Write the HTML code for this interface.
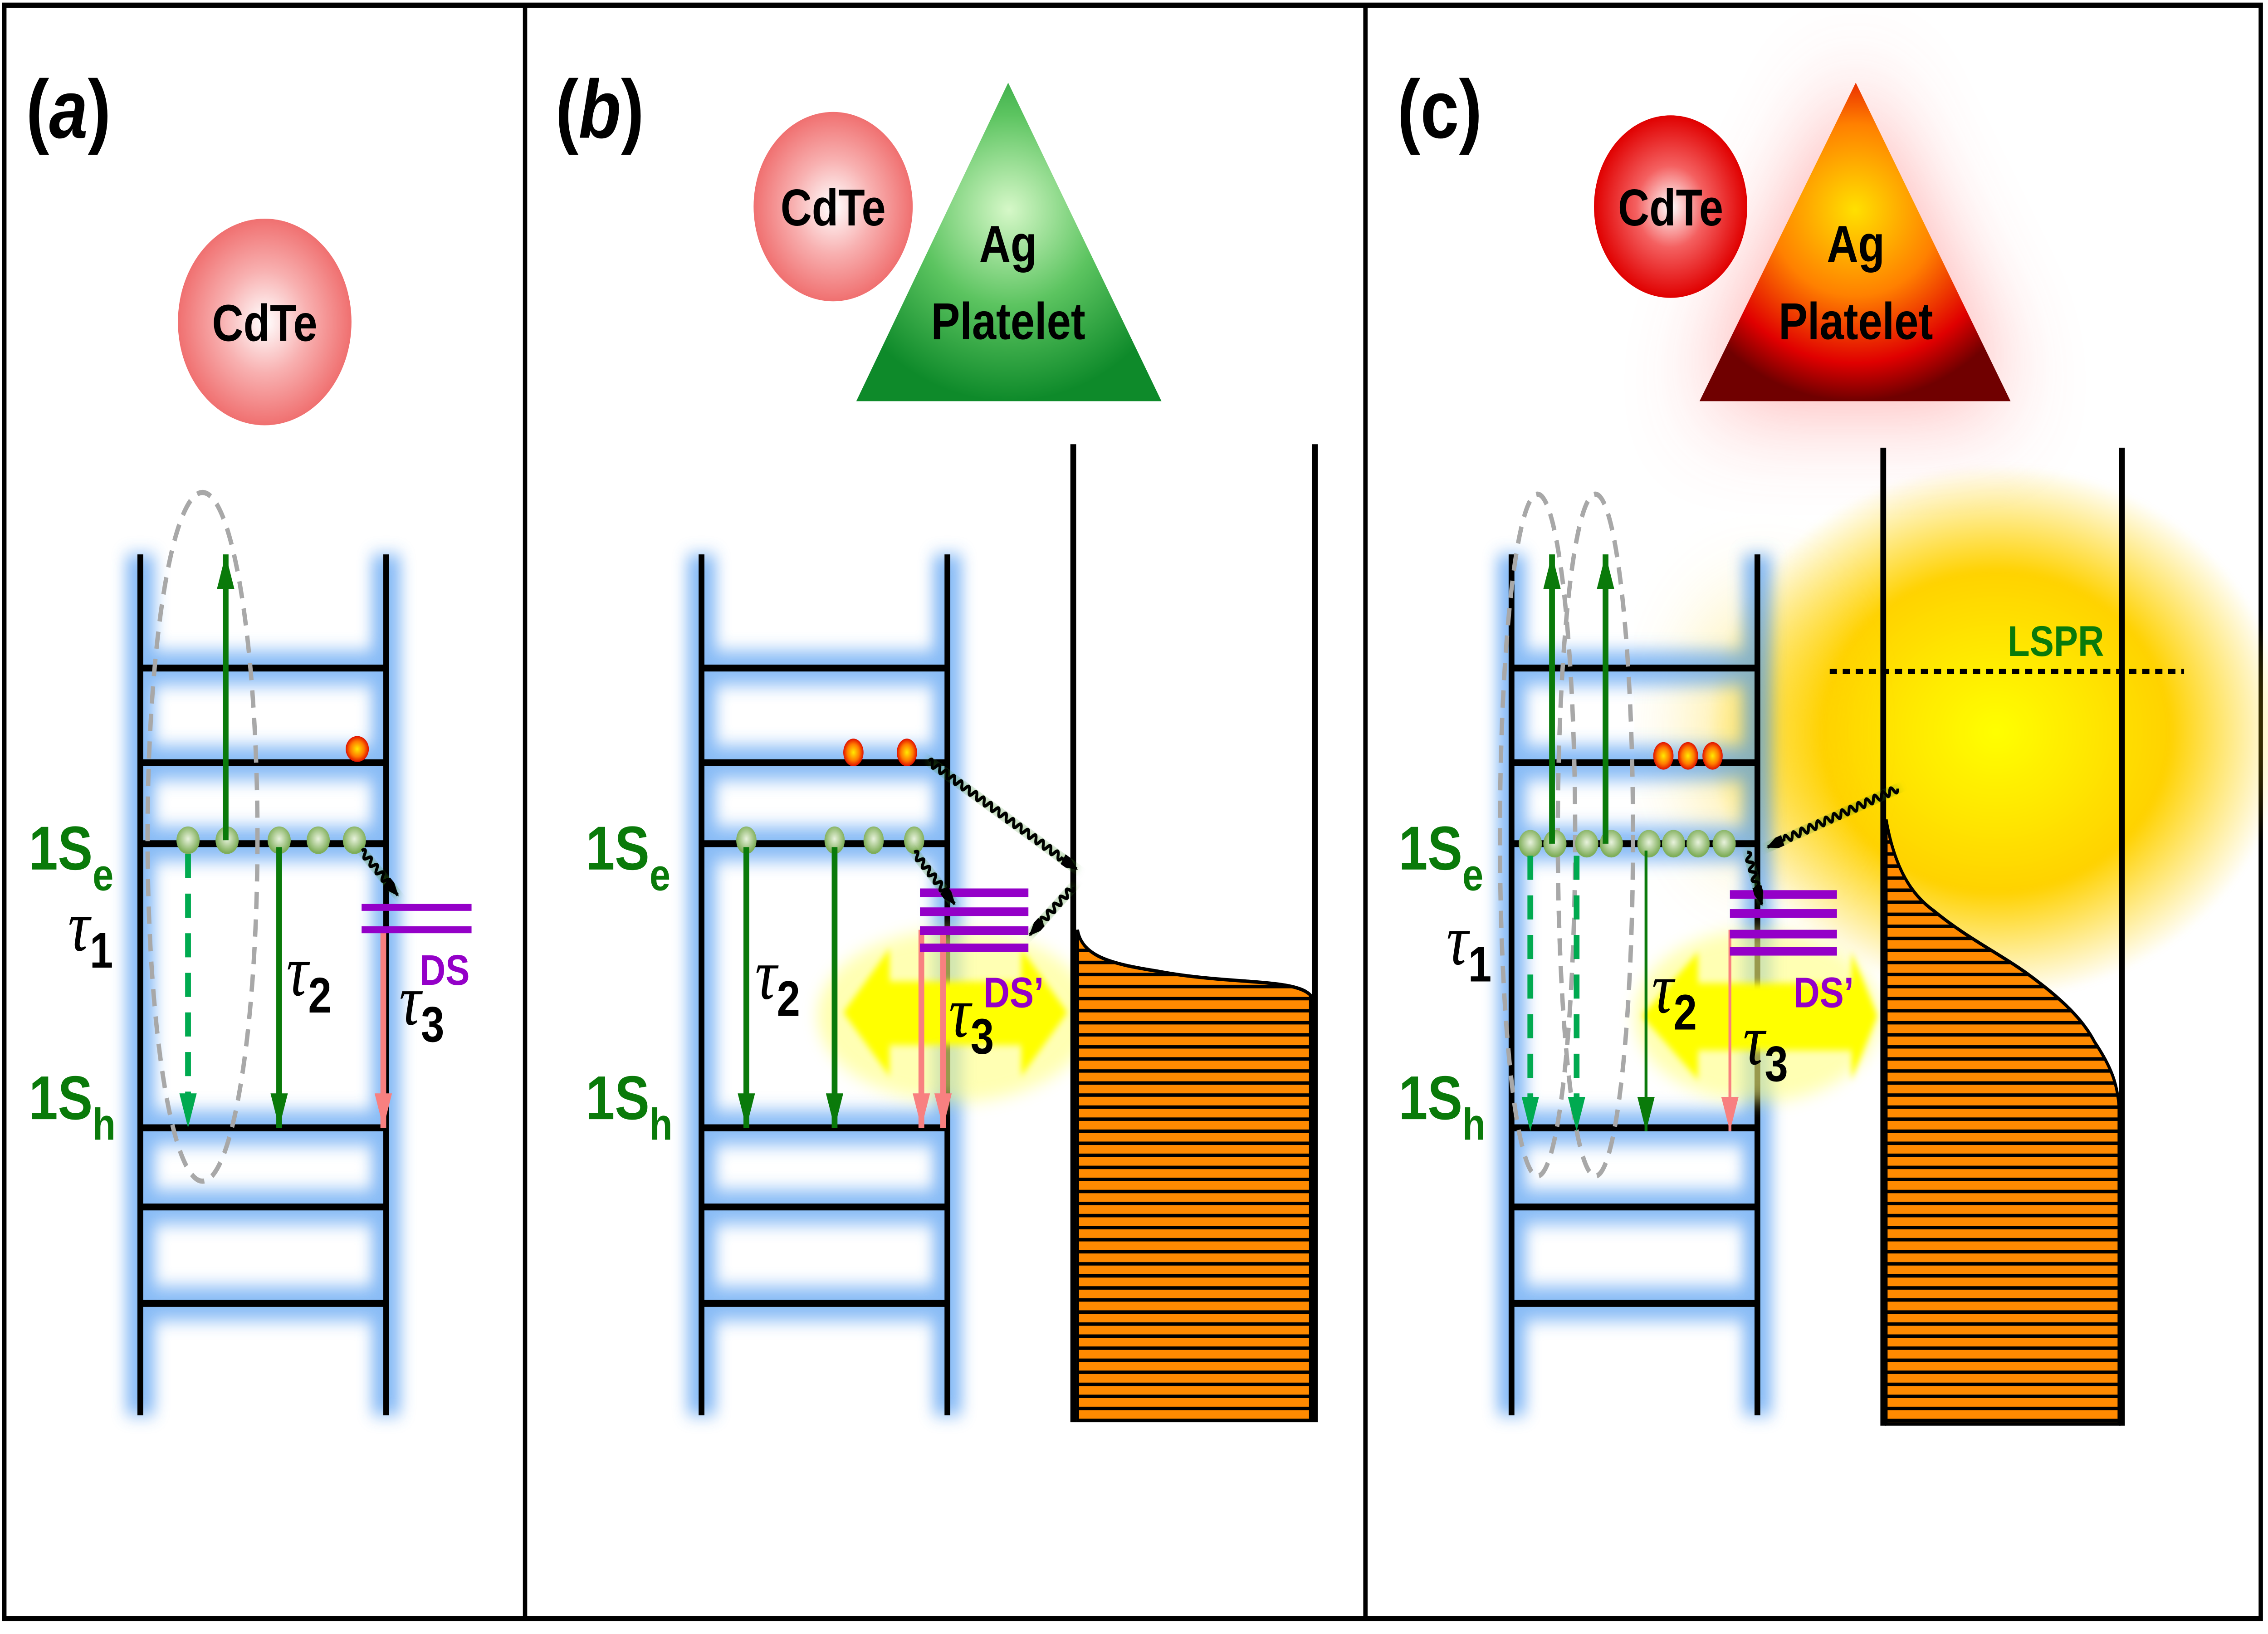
<!DOCTYPE html>
<html><head><style>html,body{margin:0;padding:0;background:#fff;overflow:hidden}svg{display:block;position:fixed;left:0;top:0;width:100vw;height:100vh}</style></head><body>
<svg viewBox="0 0 1568 949" preserveAspectRatio="none" xmlns="http://www.w3.org/2000/svg" font-family="Liberation Sans, sans-serif">
<defs>
<filter id="blur" x="-30%" y="-30%" width="160%" height="160%"><feGaussianBlur stdDeviation="5"/></filter>
<filter id="bigblur" x="-50%" y="-50%" width="200%" height="200%"><feGaussianBlur stdDeviation="30"/></filter>
<filter id="gblur" x="-30%" y="-30%" width="160%" height="160%"><feGaussianBlur stdDeviation="2"/></filter>
<filter id="wglow" x="-30%" y="-30%" width="160%" height="160%"><feGaussianBlur in="SourceAlpha" stdDeviation="2.5" result="b"/><feFlood flood-color="#3a8a20" flood-opacity="0.6"/><feComposite in2="b" operator="in" result="g"/><feMerge><feMergeNode in="g"/><feMergeNode in="SourceGraphic"/></feMerge></filter>
<radialGradient id="cd1" cx="50%" cy="50%" r="50%"><stop offset="0" stop-color="#fff"/><stop offset="0.5" stop-color="#f8b0b0"/><stop offset="1" stop-color="#f07070"/></radialGradient>
<radialGradient id="cd3" cx="50%" cy="50%" r="50%"><stop offset="0" stop-color="#fff"/><stop offset="0.45" stop-color="#f46060"/><stop offset="1" stop-color="#e00000"/></radialGradient>
<radialGradient id="ag1" cx="50%" cy="40%" r="60%"><stop offset="0" stop-color="#d6f8c8"/><stop offset="0.5" stop-color="#5cc460"/><stop offset="1" stop-color="#0e8a2a"/></radialGradient>
<radialGradient id="ag3" cx="50%" cy="40%" r="60%"><stop offset="0" stop-color="#ffe000"/><stop offset="0.45" stop-color="#ff8000"/><stop offset="0.8" stop-color="#e00000"/><stop offset="1" stop-color="#700000"/></radialGradient>
<radialGradient id="gdot" cx="50%" cy="45%" r="50%"><stop offset="0" stop-color="#e8f2dc"/><stop offset="1" stop-color="#7fae5a"/></radialGradient>
<radialGradient id="rdot" cx="50%" cy="50%" r="50%"><stop offset="0" stop-color="#ffea00"/><stop offset="0.6" stop-color="#ff7a00"/><stop offset="1" stop-color="#e01000"/></radialGradient>
<radialGradient id="yblob" cx="50%" cy="50%" r="50%"><stop offset="0" stop-color="#ffff00"/><stop offset="0.6" stop-color="#ffd200"/><stop offset="1" stop-color="#ffd200" stop-opacity="0"/></radialGradient>
<pattern id="hatch" width="10" height="7" patternUnits="userSpaceOnUse"><rect width="10" height="7" fill="#ff8a00"/><rect y="5" width="10" height="2" fill="#000"/></pattern>
<marker id="ag" markerWidth="20" markerHeight="12" refX="20" refY="6" orient="auto" markerUnits="userSpaceOnUse" viewBox="0 0 20 12"><path d="M0,0 L20,6 L0,12z" fill="#0a7a0a"/></marker>
<marker id="agl" markerWidth="20" markerHeight="12" refX="20" refY="6" orient="auto" markerUnits="userSpaceOnUse" viewBox="0 0 20 12"><path d="M0,0 L20,6 L0,12z" fill="#00aa50"/></marker>
<marker id="ap" markerWidth="20" markerHeight="12" refX="20" refY="6" orient="auto" markerUnits="userSpaceOnUse" viewBox="0 0 20 12"><path d="M0,0 L20,6 L0,12z" fill="#f88080"/></marker>
<marker id="ab" markerWidth="12" markerHeight="10" refX="11" refY="5" orient="auto" markerUnits="userSpaceOnUse" viewBox="0 0 12 10"><path d="M0,0 L12,5 L0,10z" fill="#000"/></marker>
</defs>

<rect x="3" y="3" width="1560" height="937" fill="none" stroke="#000" stroke-width="3"/>
<line x1="363" y1="3" x2="363" y2="940" stroke="#000" stroke-width="3"/>
<line x1="944" y1="3" x2="944" y2="940" stroke="#000" stroke-width="3"/>

<text x="18" y="80" font-size="48" font-weight="bold">(<tspan font-style="italic">a</tspan>)</text>
<text x="384" y="80" font-size="48" font-weight="bold">(<tspan font-style="italic">b</tspan>)</text>
<text x="966" y="80" font-size="48" font-weight="bold">(c)</text>

<polygon points="1175,233 1283,48 1390,233" fill="#ff5050" opacity="0.5" filter="url(#bigblur)"/>
<ellipse cx="1380" cy="425" rx="200" ry="155" fill="url(#yblob)" filter="url(#gblur)"/>
<ellipse cx="1220" cy="425" rx="45" ry="70" fill="#ffd200" opacity="0.45" filter="url(#bigblur)"/>

<circle cx="183" cy="187" r="60" fill="url(#cd1)"/>
<text x="183" y="198" font-size="30" font-weight="bold" text-anchor="middle">CdTe</text>
<circle cx="576" cy="120" r="55" fill="url(#cd1)"/>
<text x="576" y="131" font-size="30" font-weight="bold" text-anchor="middle">CdTe</text>
<polygon points="592,233 697,48 803,233" fill="url(#ag1)"/>
<text x="697" y="152" font-size="30" font-weight="bold" text-anchor="middle">Ag</text>
<text x="697" y="197" font-size="30" font-weight="bold" text-anchor="middle">Platelet</text>
<circle cx="1155" cy="120" r="53" fill="url(#cd3)"/>
<text x="1155" y="131" font-size="30" font-weight="bold" text-anchor="middle">CdTe</text>
<polygon points="1175,233 1283,48 1390,233" fill="url(#ag3)"/>
<text x="1283" y="152" font-size="30" font-weight="bold" text-anchor="middle">Ag</text>
<text x="1283" y="197" font-size="30" font-weight="bold" text-anchor="middle">Platelet</text>

<g id="ladA">
 <g stroke="#3b8ff0" stroke-width="20" opacity="0.6" filter="url(#blur)" fill="none">
  <path d="M97,322 V822 M267,322 V822 M97,388 H267 M97,443 H267 M97,490 H267 M97,655 H267 M97,701 H267 M97,757 H267"/>
 </g>
 <g stroke="#000" stroke-width="4" fill="none">
  <path d="M97,322 V822 M267,322 V822 M97,388 H267 M97,443 H267 M97,490 H267 M97,655 H267 M97,701 H267 M97,757 H267"/>
 </g>
</g>
<use href="#ladA" x="388"/>
<use href="#ladA" x="948"/>

<!-- Panel a -->
<ellipse cx="140" cy="486" rx="38" ry="200" fill="none" stroke="#a8a8a8" stroke-width="3" stroke-dasharray="10,6"/>
<g fill="url(#gdot)"><ellipse cx="130" cy="488" rx="8" ry="8"/><ellipse cx="157" cy="488" rx="8" ry="8"/><ellipse cx="193" cy="488" rx="8" ry="8"/><ellipse cx="220" cy="488" rx="8" ry="8"/><ellipse cx="245" cy="488" rx="8" ry="8"/></g>
<ellipse cx="247" cy="435" rx="8" ry="7.5" fill="url(#rdot)"/>
<line x1="156" y1="488" x2="156" y2="322" stroke="#0a7a0a" stroke-width="4" marker-end="url(#ag)"/>
<line x1="130" y1="496" x2="130" y2="655" stroke="#00aa50" stroke-width="4" stroke-dasharray="14,9" marker-end="url(#agl)"/>
<line x1="193" y1="492" x2="193" y2="655" stroke="#0a7a0a" stroke-width="4" marker-end="url(#ag)"/>
<line x1="265" y1="540" x2="265" y2="655" stroke="#f88080" stroke-width="4" marker-end="url(#ap)"/>
<rect x="250" y="525" width="76" height="4" fill="#9400c8"/>
<rect x="250" y="538" width="76" height="4" fill="#9400c8"/>
<text x="290" y="572" font-size="25" font-weight="bold" fill="#9400c8">DS</text>
<path d="M0,0 q1.5,-4 3,0 q1.5,4 3,0 q1.5,-4 3,0 q1.5,4 3,0 q1.5,-4 3,0 q1.5,4 3,0 q1.5,-4 3,0 q1.5,4 3,0 q1.5,-4 3,0 q1.5,4 3,0 l6,0" fill="none" stroke="#000" stroke-width="2" transform="translate(250,494) rotate(46)" marker-end="url(#ab)" filter="url(#wglow)"/>
<text x="20" y="505" font-size="36" font-weight="bold" fill="#0a7a0a">1S<tspan font-size="26" dy="12">e</tspan></text>
<text x="20" y="650" font-size="36" font-weight="bold" fill="#0a7a0a">1S<tspan font-size="26" dy="12">h</tspan></text>
<g font-family="Liberation Serif, serif" font-style="italic" font-size="42">
<text x="47" y="552">τ<tspan font-style="normal" font-family="Liberation Sans, sans-serif" font-weight="bold" font-size="29" dy="10">1</tspan></text>
<text x="198" y="578">τ<tspan font-style="normal" font-family="Liberation Sans, sans-serif" font-weight="bold" font-size="29" dy="10">2</tspan></text>
<text x="276" y="595">τ<tspan font-style="normal" font-family="Liberation Sans, sans-serif" font-weight="bold" font-size="29" dy="10">3</tspan></text>
</g>

<!-- Panel b -->
<g>
<ellipse cx="660" cy="590" rx="95" ry="50" fill="#ffff80" opacity="0.6" filter="url(#blur)"/>
<polygon points="583,588 615,551 615,570 706,570 706,551 738,588 706,625 706,607 615,607 615,625" fill="#ffff00" filter="url(#gblur)"/>
</g>
<g fill="url(#gdot)"><ellipse cx="516" cy="488" rx="7" ry="8"/><ellipse cx="577" cy="488" rx="7" ry="8"/><ellipse cx="604" cy="488" rx="7" ry="8"/><ellipse cx="632" cy="488" rx="7" ry="8"/></g>
<ellipse cx="590" cy="437" rx="7" ry="8" fill="url(#rdot)"/><ellipse cx="627" cy="437" rx="7" ry="8" fill="url(#rdot)"/>
<line x1="516" y1="492" x2="516" y2="655" stroke="#0a7a0a" stroke-width="4" marker-end="url(#ag)"/>
<line x1="577" y1="492" x2="577" y2="655" stroke="#0a7a0a" stroke-width="4" marker-end="url(#ag)"/>
<line x1="637" y1="540" x2="637" y2="655" stroke="#f88080" stroke-width="4" marker-end="url(#ap)"/>
<line x1="652" y1="540" x2="652" y2="655" stroke="#f88080" stroke-width="4" marker-end="url(#ap)"/>
<g fill="#9400c8"><rect x="636" y="516" width="75" height="5"/><rect x="636" y="527" width="75" height="5"/><rect x="636" y="538" width="75" height="5"/><rect x="636" y="548" width="75" height="5"/></g>
<text x="680" y="585" font-size="25" font-weight="bold" fill="#9400c8">DS’</text>
<path d="M745,540 C748,556 770,560 800,564 C850,572 895,568 906,578 L906,825 L745,825 Z" fill="url(#hatch)" stroke="#000" stroke-width="2"/>
<line x1="742" y1="258" x2="742" y2="826" stroke="#000" stroke-width="4"/>
<line x1="909" y1="258" x2="909" y2="826" stroke="#000" stroke-width="4"/>
<path d="M0,0 q1.5,-4 3,0 q1.5,4 3,0 q1.5,-4 3,0 q1.5,4 3,0 q1.5,-4 3,0 q1.5,4 3,0 q1.5,-4 3,0 q1.5,4 3,0 q1.5,-4 3,0 q1.5,4 3,0 q1.5,-4 3,0 q1.5,4 3,0 q1.5,-4 3,0 q1.5,4 3,0 q1.5,-4 3,0 q1.5,4 3,0 q1.5,-4 3,0 q1.5,4 3,0 q1.5,-4 3,0 q1.5,4 3,0 q1.5,-4 3,0 q1.5,4 3,0 q1.5,-4 3,0 q1.5,4 3,0 q1.5,-4 3,0 q1.5,4 3,0 q1.5,-4 3,0 q1.5,4 3,0 q1.5,-4 3,0 q1.5,4 3,0 q1.5,-4 3,0 q1.5,4 3,0 q1.5,-4 3,0 q1.5,4 3,0 q1.5,-4 3,0 q1.5,4 3,0 l12,0" fill="none" stroke="#000" stroke-width="2" transform="translate(642,442) rotate(31.5)" marker-end="url(#ab)" filter="url(#wglow)"/>
<path d="M0,0 q1.5,-4 3,0 q1.5,4 3,0 q1.5,-4 3,0 q1.5,4 3,0 q1.5,-4 3,0 q1.5,4 3,0 q1.5,-4 3,0 q1.5,4 3,0 q1.5,-4 3,0 q1.5,4 3,0 q1.5,-4 3,0 q1.5,4 3,0 l5,0" fill="none" stroke="#000" stroke-width="2" transform="translate(742,515) rotate(137)" marker-end="url(#ab)" filter="url(#wglow)"/>
<path d="M0,0 q1.5,-4 3,0 q1.5,4 3,0 q1.5,-4 3,0 q1.5,4 3,0 q1.5,-4 3,0 q1.5,4 3,0 q1.5,-4 3,0 q1.5,4 3,0 q1.5,-4 3,0 q1.5,4 3,0 q1.5,-4 3,0 q1.5,4 3,0 l5,0" fill="none" stroke="#000" stroke-width="2" transform="translate(632,495) rotate(47)" marker-end="url(#ab)" filter="url(#wglow)"/>
<text x="405" y="505" font-size="36" font-weight="bold" fill="#0a7a0a">1S<tspan font-size="26" dy="12">e</tspan></text>
<text x="405" y="650" font-size="36" font-weight="bold" fill="#0a7a0a">1S<tspan font-size="26" dy="12">h</tspan></text>
<g font-family="Liberation Serif, serif" font-style="italic" font-size="42">
<text x="522" y="580">τ<tspan font-style="normal" font-family="Liberation Sans, sans-serif" font-weight="bold" font-size="29" dy="10">2</tspan></text>
<text x="656" y="602">τ<tspan font-style="normal" font-family="Liberation Sans, sans-serif" font-weight="bold" font-size="29" dy="10">3</tspan></text>
</g>

<!-- Panel c -->
<g>
<ellipse cx="1215" cy="590" rx="85" ry="50" fill="#ffff80" opacity="0.6" filter="url(#blur)"/>
<polygon points="1135,590 1174,553 1174,571 1280,571 1280,553 1298,590 1280,627 1280,610 1174,610 1174,627" fill="#ffff00" filter="url(#gblur)"/>
</g>
<path d="M1304,476 C1310,505 1322,520 1337,529 C1360,545 1385,555 1404,567 C1425,580 1440,592 1448,605 C1460,620 1464,630 1465,643 L1465,827 L1304,827 Z" fill="url(#hatch)" stroke="#000" stroke-width="2"/>
<line x1="1302" y1="260" x2="1302" y2="828" stroke="#000" stroke-width="4"/>
<line x1="1467" y1="260" x2="1467" y2="828" stroke="#000" stroke-width="4"/>
<line x1="1265" y1="390" x2="1510" y2="390" stroke="#000" stroke-width="3" stroke-dasharray="5,4"/>
<text x="1388" y="381" font-size="25" font-weight="bold" fill="#0a7a0a">LSPR</text>
<ellipse cx="1063" cy="485" rx="26" ry="198" fill="none" stroke="#a8a8a8" stroke-width="3" stroke-dasharray="10,6"/>
<ellipse cx="1103" cy="485" rx="26" ry="198" fill="none" stroke="#a8a8a8" stroke-width="3" stroke-dasharray="10,6"/>
<g fill="url(#gdot)"><ellipse cx="1058" cy="490" rx="8" ry="8"/><ellipse cx="1075" cy="490" rx="8" ry="8"/><ellipse cx="1097" cy="490" rx="8" ry="8"/><ellipse cx="1114" cy="490" rx="8" ry="8"/><ellipse cx="1140" cy="490" rx="8" ry="8"/><ellipse cx="1157" cy="490" rx="8" ry="8"/><ellipse cx="1174" cy="490" rx="8" ry="8"/><ellipse cx="1192" cy="490" rx="8" ry="8"/></g>
<ellipse cx="1150" cy="439" rx="7" ry="8" fill="url(#rdot)"/><ellipse cx="1167" cy="439" rx="7" ry="8" fill="url(#rdot)"/><ellipse cx="1184" cy="439" rx="7" ry="8" fill="url(#rdot)"/>
<line x1="1073" y1="490" x2="1073" y2="322" stroke="#0a7a0a" stroke-width="4" marker-end="url(#ag)"/>
<line x1="1110" y1="490" x2="1110" y2="322" stroke="#0a7a0a" stroke-width="4" marker-end="url(#ag)"/>
<line x1="1058" y1="497" x2="1058" y2="657" stroke="#00aa50" stroke-width="4" stroke-dasharray="14,9" marker-end="url(#agl)"/>
<line x1="1090" y1="497" x2="1090" y2="657" stroke="#00aa50" stroke-width="4" stroke-dasharray="14,9" marker-end="url(#agl)"/>
<line x1="1138" y1="494" x2="1138" y2="657" stroke="#0a7a0a" stroke-width="2" marker-end="url(#ag)"/>
<line x1="1196" y1="540" x2="1196" y2="657" stroke="#f88080" stroke-width="2" marker-end="url(#ap)"/>
<g fill="#9400c8"><rect x="1196" y="517" width="74" height="5"/><rect x="1196" y="528" width="74" height="5"/><rect x="1196" y="540" width="74" height="5"/><rect x="1196" y="550" width="74" height="5"/></g>
<text x="1240" y="585" font-size="25" font-weight="bold" fill="#9400c8">DS’</text>
<path d="M0,0 q1.5,-4 3,0 q1.5,4 3,0 q1.5,-4 3,0 q1.5,4 3,0 q1.5,-4 3,0 q1.5,4 3,0 q1.5,-4 3,0 q1.5,4 3,0 q1.5,-4 3,0 q1.5,4 3,0 q1.5,-4 3,0 q1.5,4 3,0 q1.5,-4 3,0 q1.5,4 3,0 q1.5,-4 3,0 q1.5,4 3,0 q1.5,-4 3,0 q1.5,4 3,0 q1.5,-4 3,0 q1.5,4 3,0 q1.5,-4 3,0 q1.5,4 3,0 q1.5,-4 3,0 q1.5,4 3,0 q1.5,-4 3,0 q1.5,4 3,0 q1.5,-4 3,0 q1.5,4 3,0 l12,0" fill="none" stroke="#000" stroke-width="2" transform="translate(1312,458) rotate(159.3)" marker-end="url(#ab)" filter="url(#wglow)"/>
<path d="M0,0 q1.5,-4 3,0 q1.5,4 3,0 q1.5,-4 3,0 q1.5,4 3,0 q1.5,-4 3,0 q1.5,4 3,0 q1.5,-4 3,0 q1.5,4 3,0 l8,0" fill="none" stroke="#000" stroke-width="2" transform="translate(1208,495) rotate(71.6)" marker-end="url(#ab)" filter="url(#wglow)"/>
<text x="967" y="505" font-size="36" font-weight="bold" fill="#0a7a0a">1S<tspan font-size="26" dy="12">e</tspan></text>
<text x="967" y="650" font-size="36" font-weight="bold" fill="#0a7a0a">1S<tspan font-size="26" dy="12">h</tspan></text>
<g font-family="Liberation Serif, serif" font-style="italic" font-size="42">
<text x="1000" y="560">τ<tspan font-style="normal" font-family="Liberation Sans, sans-serif" font-weight="bold" font-size="29" dy="10">1</tspan></text>
<text x="1142" y="588">τ<tspan font-style="normal" font-family="Liberation Sans, sans-serif" font-weight="bold" font-size="29" dy="10">2</tspan></text>
<text x="1205" y="618">τ<tspan font-style="normal" font-family="Liberation Sans, sans-serif" font-weight="bold" font-size="29" dy="10">3</tspan></text>
</g>
</svg>
</body></html>
